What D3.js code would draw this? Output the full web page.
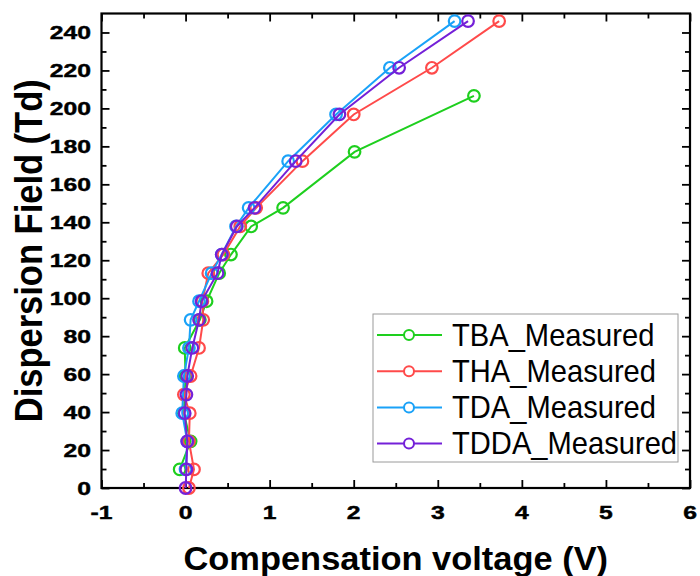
<!DOCTYPE html>
<html>
<head>
<meta charset="utf-8">
<script src="https://cdn.jsdelivr.net/npm/d3@7"></script>
<style>
  html, body { margin: 0; padding: 0; background: #fff; }
  svg { display: block; }
  text { font-family: "Liberation Sans", Arial, sans-serif; }
</style>
</head>
<body>
<svg id="chart" width="700" height="576"></svg>
<script>
// Compensation voltage (V) vs dispersion field (Td), one array per compound
const seriesNames = ["TBA_Measured", "THA_Measured", "TDA_Measured", "TDDA_Measured"];
const seriesColors = ["#1ecf1e", "#ff4a4a", "#1aa2f8", "#7420d8"];

const tbaCV = [-0.07, 0.06, -0.02, 0.00, -0.01, 0.17, 0.25, 0.40, 0.54, 0.78, 1.16, 2.01, 3.43];
const tbaField = [9.8, 24.6, 39.4, 59.0, 73.8, 88.6, 98.4, 113.2, 123.0, 137.8, 147.6, 177.1, 206.6];

const thaCV = [0.04, 0.10, 0.04, 0.05, -0.02, 0.06, 0.16, 0.21, 0.20, 0.27, 0.45, 0.65, 0.84, 1.39, 2.00, 2.93, 3.73];
const thaField = [0, 9.8, 24.6, 39.4, 49.2, 59.0, 73.8, 88.6, 98.4, 113.2, 123.0, 137.8, 147.6, 172.2, 196.8, 221.4, 246.0];

const tdaCV = [0.00, 0.02, -0.04, -0.02, 0.04, 0.06, 0.16, 0.31, 0.43, 0.60, 0.75, 1.22, 1.79, 2.43, 3.20];
const tdaField = [9.8, 24.6, 39.4, 59.0, 73.8, 88.6, 98.4, 113.2, 123.0, 137.8, 147.6, 172.2, 196.8, 221.4, 246.0];

const tddaCV = [0.00, 0.01, 0.02, -0.01, 0.01, 0.02, 0.08, 0.16, 0.19, 0.38, 0.43, 0.61, 0.82, 1.31, 1.83, 2.54, 3.36];
const tddaField = [0, 9.8, 24.6, 39.4, 49.2, 59.0, 73.8, 88.6, 98.4, 113.2, 123.0, 137.8, 147.6, 172.2, 196.8, 221.4, 246.0];

const xTicks = [-1, 0, 1, 2, 3, 4, 5, 6];
const xMinorTicks = [-0.5, 0.5, 1.5, 2.5, 3.5, 4.5, 5.5];
const yTicks = [0, 20, 40, 60, 80, 100, 120, 140, 160, 180, 200, 220, 240];
const yMinorTicks = [10, 30, 50, 70, 90, 110, 130, 150, 170, 190, 210, 230];

const xTitle = "Compensation voltage (V)";
const yTitle = "Dispersion Field (Td)";

const series = [
  { cv: tbaCV, field: tbaField },
  { cv: thaCV, field: thaField },
  { cv: tdaCV, field: tdaField },
  { cv: tddaCV, field: tddaField }
].map((s, i) => ({
  name: seriesNames[i],
  color: seriesColors[i],
  points: s.cv.map((v, j) => ({ x: v, y: s.field[j] }))
}));

const svg = d3.select("#chart");
const plotL = 101.5, plotR = 690, plotT = 13.5, plotB = 488;

const x = d3.scaleLinear().domain([-1, 6]).range([plotL, plotR]);
const y = d3.scaleLinear().domain([0, 250]).range([plotB, plotT]);

// ticks on all four sides, pointing inward
function tickAxis(axis, values, size, transform) {
  const g = svg.append("g").attr("transform", transform)
    .call(axis.tickValues(values).tickSize(size).tickFormat(""));
  g.select(".domain").remove();
  g.selectAll(".tick line").attr("stroke", "#000").attr("stroke-width", 1.8);
}
tickAxis(d3.axisBottom(x), xTicks, -8, `translate(0,${plotB})`);
tickAxis(d3.axisBottom(x), xMinorTicks, -5, `translate(0,${plotB})`);
tickAxis(d3.axisTop(x), xTicks, -8, `translate(0,${plotT})`);
tickAxis(d3.axisTop(x), xMinorTicks, -5, `translate(0,${plotT})`);
tickAxis(d3.axisLeft(y), yTicks, -8, `translate(${plotL},0)`);
tickAxis(d3.axisLeft(y), yMinorTicks, -5, `translate(${plotL},0)`);
tickAxis(d3.axisRight(y), yTicks, -8, `translate(${plotR},0)`);
tickAxis(d3.axisRight(y), yMinorTicks, -5, `translate(${plotR},0)`);

// frame
svg.append("rect")
  .attr("x", plotL).attr("y", plotT)
  .attr("width", plotR - plotL).attr("height", plotB - plotT)
  .attr("fill", "none").attr("stroke", "#000").attr("stroke-width", 2.2);

// tick labels (wide, heavy digits)
svg.append("g").selectAll("text").data(xTicks).join("text")
  .attr("transform", d => `translate(${x(d)},519) scale(1.3,1)`)
  .attr("text-anchor", "middle")
  .attr("font-size", 19).attr("font-weight", "bold")
  .attr("stroke", "#000").attr("stroke-width", 0.45)
  .text(d => d);

svg.append("g").selectAll("text").data(yTicks).join("text")
  .attr("transform", d => `translate(91,${y(d) + 6.8}) scale(1.3,1)`)
  .attr("text-anchor", "end")
  .attr("font-size", 19).attr("font-weight", "bold")
  .attr("stroke", "#000").attr("stroke-width", 0.45)
  .text(d => d);

// axis titles
svg.append("text")
  .attr("transform", `translate(${(plotL + plotR) / 2},570) scale(1.06,1)`)
  .attr("text-anchor", "middle")
  .attr("font-size", 32.5).attr("font-weight", "bold")
  .text(xTitle);

svg.append("text")
  .attr("transform", `translate(41.5,${(plotT + plotB) / 2}) rotate(-90) scale(1,1.12)`)
  .attr("text-anchor", "middle")
  .attr("font-size", 34.5).attr("font-weight", "bold")
  .text(yTitle);

// series lines and hollow circle markers
const line = d3.line().x(d => x(d.x)).y(d => y(d.y));
const sg = svg.append("g").selectAll("g").data(series).join("g");
sg.append("path")
  .attr("d", d => line(d.points))
  .attr("fill", "none")
  .attr("stroke", d => d.color)
  .attr("stroke-width", 2);
sg.each(function (s) {
  d3.select(this).selectAll("circle").data(s.points).join("circle")
    .attr("cx", d => x(d.x)).attr("cy", d => y(d.y))
    .attr("r", 5.8)
    .attr("fill", "none")
    .attr("stroke", s.color)
    .attr("stroke-width", 2.2);
});

// legend
const lg = svg.append("g");
lg.append("rect")
  .attr("x", 373).attr("y", 314).attr("width", 305).attr("height", 148)
  .attr("fill", "#fff").attr("stroke", "#9a9a9a").attr("stroke-width", 1);
const rows = lg.selectAll("g").data(series).join("g")
  .attr("transform", (d, i) => `translate(0,${335 + i * 36.2})`);
rows.append("line")
  .attr("x1", 377).attr("x2", 442).attr("y1", 0).attr("y2", 0)
  .attr("stroke", d => d.color).attr("stroke-width", 2);
rows.append("circle")
  .attr("cx", 409).attr("cy", 0).attr("r", 5)
  .attr("fill", "#fff").attr("stroke", d => d.color).attr("stroke-width", 2);
rows.append("text")
  .attr("transform", "translate(452,10.5) scale(0.94,1)")
  .attr("font-size", 31)
  .text(d => d.name);
</script>
</body>
</html>
